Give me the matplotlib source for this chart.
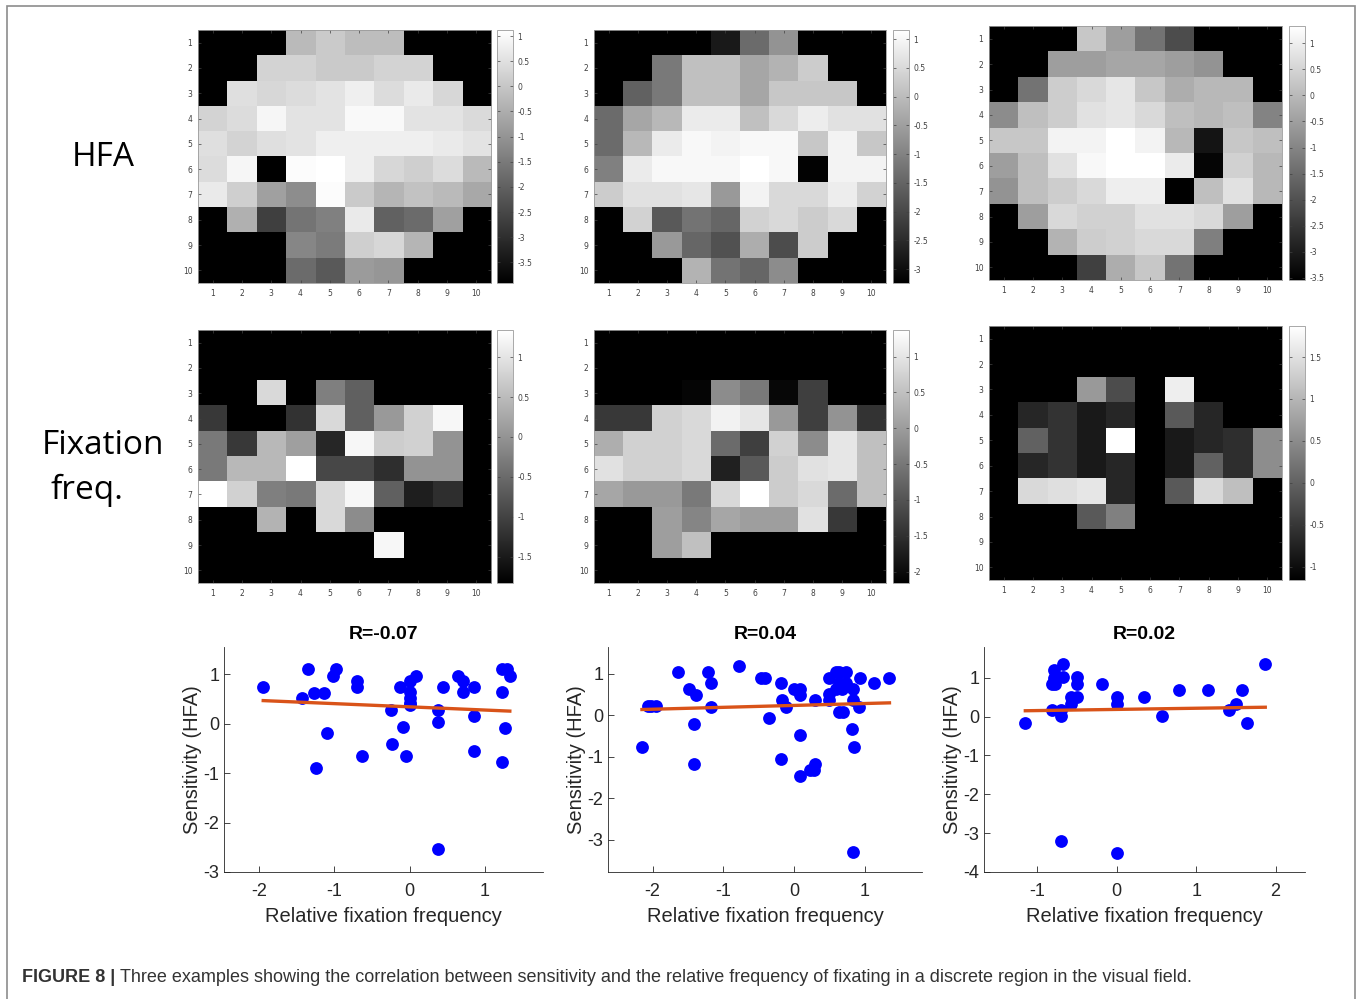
import numpy as np
import matplotlib
matplotlib.use('Agg')
import matplotlib.pyplot as plt
from matplotlib.patches import Rectangle
from matplotlib.ticker import FormatStrFormatter

plt.rcParams['axes.unicode_minus'] = False
nan = np.nan

# HFA sensitivity maps (10 x 10 grid, NaN = outside the field)
hfa_1 = [
    [nan, nan, nan, -0.24, 0.07, -0.19, -0.19, nan, nan, nan],
    [nan, nan, 0.27, 0.27, 0.07, 0.07, 0.27, 0.27, nan, nan],
    [nan, 0.48, 0.32, 0.43, 0.58, 0.79, 0.43, 0.69, 0.32, nan],
    [0.27, 0.43, 0.94, 0.58, 0.58, 0.99, 0.99, 0.58, 0.58, 0.38],
    [0.48, 0.27, 0.48, 0.58, 0.79, 0.79, 0.79, 0.79, 0.69, 0.58],
    [0.43, 0.94, -3.9, 1.05, 1.2, 0.79, 0.32, 0.17, 0.43, -0.24],
    [0.69, 0.17, -0.76, -1.12, 1.05, 0.07, -0.35, -0.09, -0.24, -0.60],
    [nan, -0.45, -2.66, -1.63, -1.38, 0.69, -1.99, -1.79, -0.76, nan],
    [nan, nan, nan, -1.27, -1.48, 0.17, 0.32, -0.35, nan, nan],
    [nan, nan, nan, -1.79, -2.15, -0.86, -0.96, nan, nan, nan],
]
hfa_2 = [
    [nan, nan, nan, nan, -2.80, -1.39, -0.69, nan, nan, nan],
    [nan, nan, -1.13, 0.06, 0.06, -0.38, -0.16, 0.28, nan, nan],
    [nan, -1.57, -1.13, 0.06, 0.06, -0.38, 0.19, 0.19, 0.19, nan],
    [-1.39, -0.38, -0.07, 0.81, 0.81, 0.06, 0.50, 0.85, 0.63, 0.63],
    [-1.39, -0.07, 0.81, 1.03, 0.94, 1.03, 1.03, 0.19, 0.94, 0.19],
    [-1.04, 0.81, 1.03, 1.03, 1.03, 1.16, 1.03, -3.2, 0.94, 0.94],
    [0.28, 0.63, 0.63, 0.72, -0.60, 0.94, 0.50, 0.50, 0.85, 0.37],
    [nan, 0.37, -1.70, -1.26, -1.48, 0.37, 0.50, 0.28, 0.50, nan],
    [nan, nan, -0.60, -1.48, -1.83, -0.25, -1.92, 0.28, nan, nan],
    [nan, nan, nan, -0.16, -1.26, -1.48, -0.82, nan, nan, nan],
]
hfa_3 = [
    [nan, nan, nan, 0.26, -0.52, -1.35, -2.08, nan, nan, nan],
    [nan, nan, -0.52, -0.52, -0.37, -0.37, -0.52, -0.72, nan, nan],
    [nan, -1.35, 0.36, 0.60, 0.84, 0.26, -0.23, -0.03, -0.03, nan],
    [-0.86, 0.11, 0.36, 0.75, 0.84, 0.60, 0.11, -0.03, 0.11, -1.01],
    [0.26, 0.26, 1.09, 1.09, 1.33, 1.09, -0.03, -3.15, 0.26, 0.11],
    [-0.52, 0.11, 0.75, 1.18, 1.33, 1.33, 0.94, -3.44, 0.45, -0.03],
    [-0.72, 0.11, 0.36, 0.60, 0.99, 0.99, -3.54, 0.11, 0.75, -0.03],
    [nan, -0.52, 0.60, 0.45, 0.45, 0.75, 0.75, 0.60, -0.52, nan],
    [nan, nan, -0.13, 0.36, 0.45, 0.60, 0.60, -1.11, nan, nan],
    [nan, nan, nan, -2.32, -0.23, 0.26, -1.35, nan, nan, nan],
]

# relative fixation frequency maps
fix_1 = [
    [nan] * 10,
    [nan] * 10,
    [nan, nan, 0.86, nan, -0.25, -0.63, nan, nan, nan, nan],
    [-1.13, nan, nan, -1.20, 0.86, -0.63, 0.07, 0.77, 1.24, nan],
    [-0.31, -1.13, 0.45, 0.14, -1.35, 1.24, 0.71, 0.77, 0.01, nan],
    [-0.31, 0.45, 0.45, 1.34, -0.94, -0.94, -1.26, 0.01, 0.01, nan],
    [1.34, 0.77, -0.25, -0.31, 0.86, 1.24, -0.63, -1.45, -1.26, nan],
    [nan, nan, 0.39, nan, 0.86, -0.09, nan, nan, nan, nan],
    [nan, nan, nan, nan, nan, nan, 1.24, nan, nan, nan],
    [nan] * 10,
]
fix_2 = [
    [nan] * 10,
    [nan] * 10,
    [nan, nan, nan, -2.09, -0.22, -0.47, -2.05, -1.28, nan, nan],
    [-1.38, -1.38, 0.73, 0.84, 1.19, 1.02, -0.04, -1.28, -0.11, -1.45],
    [0.24, 0.73, 0.73, 0.84, -0.68, -1.28, 0.73, -0.22, 1.02, 0.49],
    [0.95, 0.73, 0.73, 0.84, -1.70, -0.92, 0.66, 0.95, 1.02, 0.49],
    [0.13, -0.04, -0.04, -0.47, 0.84, 1.37, 0.66, 0.84, -0.68, 0.49],
    [nan, nan, 0.03, -0.32, 0.13, 0.03, 0.03, 0.95, -1.38, nan],
    [nan, nan, 0.03, 0.49, nan, nan, nan, nan, nan, nan],
    [nan] * 10,
]
fix_3 = [
    [nan] * 10,
    [nan] * 10,
    [nan, nan, nan, 0.66, -0.25, nan, 1.66, nan, nan, nan],
    [nan, -0.71, -0.55, -0.86, -0.71, nan, -0.10, -0.71, nan, nan],
    [nan, -0.01, -0.55, -0.86, 1.87, nan, -0.86, -0.71, -0.61, 0.51],
    [nan, -0.71, -0.55, -0.86, -0.71, nan, -0.86, -0.01, -0.61, 0.51],
    [nan, 1.42, 1.48, 1.57, -0.71, nan, -0.10, 1.42, 1.11, nan],
    [nan, nan, nan, -0.10, 0.36, nan, nan, nan, nan, nan],
    [nan] * 10,
    [nan] * 10,
]

hfa_ranges = [(-3.91, 1.12), (-3.24, 1.16), (-3.54, 1.33)]
fix_ranges = [(-1.83, 1.34), (-2.16, 1.37), (-1.16, 1.87)]
hfa_cticks = [np.arange(-3.5, 1.01, 0.5), np.arange(-3, 1.01, 0.5), np.arange(-3.5, 1.01, 0.5)]
fix_cticks = [np.arange(-1.5, 1.01, 0.5), np.arange(-2, 1.01, 0.5), np.arange(-1, 1.51, 0.5)]

# scatter: relative fixation frequency vs sensitivity
freq_1 = [-1.94, -1.35, -1.42, -1.27, -1.14, -1.01, -0.98, -1.10, -1.24, -0.69, -0.69, -0.63,
          -0.25, -0.23, -0.12, -0.08, -0.05, 0.0, 0.0, 0.0, 0.0, 0.0, 0.08, 0.38, 0.38, 0.44,
          0.38, 0.64, 0.71, 0.71, 0.85, 0.85, 0.85, 1.22, 1.29, 1.22, 1.33, 1.26, 1.22]
sens_1 = [0.74, 1.10, 0.52, 0.62, 0.62, 0.96, 1.10, -0.19, -0.89, 0.87, 0.74, -0.66,
          0.27, -0.42, 0.74, -0.07, -0.65, 0.86, 0.64, 0.52, 0.42, 0.37, 0.96, 0.28, 0.03, 0.74,
          -2.53, 0.96, 0.86, 0.63, 0.74, 0.15, -0.55, 1.10, 1.10, 0.63, 0.96, -0.08, -0.77]
freq_2 = [-2.15, -2.02, -1.95, -2.06, -1.64, -1.49, -1.39, -1.42, -1.42, -1.21, -1.17, -1.17,
          -0.78, -0.47, -0.41, -0.35, -0.19, -0.17, -0.11, -0.19, 0.0, 0.08, 0.08, 0.08, 0.08,
          0.22, 0.28, 0.29, 0.29, 0.49, 0.49, 0.49, 0.59, 0.64, 0.73, 0.64, 0.73, 0.59, 0.68,
          0.64, 0.69, 0.84, 0.84, 0.82, 0.85, 0.84, 0.93, 0.92, 1.13, 1.35]
sens_2 = [-0.77, 0.22, 0.22, 0.22, 1.04, 0.64, 0.48, -0.22, -1.18, 1.04, 0.77, 0.20,
          1.20, 0.91, 0.91, -0.06, 0.77, 0.36, 0.20, -1.05, 0.64, 0.64, 0.48, -0.48, -1.47,
          -1.32, -1.32, -1.18, 0.36, 0.91, 0.52, 0.36, 1.04, 1.04, 1.04, 0.77, 0.77, 0.64, 0.64,
          0.08, 0.08, 0.64, 0.36, -0.34, -0.77, -3.29, 0.91, 0.20, 0.77, 0.91]
freq_3 = [-1.15, -0.82, -0.79, -0.79, -0.82, -0.78, -0.70, -0.70, -0.67, -0.67, -0.70, -0.58,
          -0.57, -0.50, -0.50, -0.50, -0.18, 0.0, 0.0, 0.0, 0.34, 0.57, 0.79, 1.15, 1.41, 1.50,
          1.58, 1.64, 1.87]
sens_3 = [-0.16, 0.18, 1.19, 0.99, 0.85, 0.85, 0.18, 0.01, 1.36, 1.01, -3.19, 0.33,
          0.50, 0.50, 1.01, 0.85, 0.85, 0.50, 0.33, -3.52, 0.50, 0.01, 0.68, 0.68, 0.16, 0.33,
          0.68, -0.16, 1.35]
# fitted regression line as shown (slope, intercept)
fit_slope = [-0.065, 0.046, 0.030]
fit_intercept = [0.34, 0.24, 0.184]
r_labels = ['R=-0.07', 'R=0.04', 'R=0.02']
scatter_xlims = [(-2.46, 1.77), (-2.63, 1.81), (-1.67, 2.37)]
scatter_ylims = [(-3, 1.55), (-3.78, 1.65), (-4, 1.79)]
scatter_xticks = [[-2, -1, 0, 1], [-2, -1, 0, 1], [-1, 0, 1, 2]]
scatter_yticks = [[-3, -2, -1, 0, 1], [-3, -2, -1, 0, 1], [-4, -3, -2, -1, 0, 1]]

caption_bold = 'FIGURE 8 |'
caption_text = ('Three examples showing the correlation between sensitivity and the relative '
                'frequency of fixating in a discrete region in the visual field.')

W, H = 1358, 999


def rect(l, t, r, b):
    return [l / W, 1 - b / H, (r - l) / W, (b - t) / H]


fig = plt.figure(figsize=(W / 100, H / 100), dpi=100)
fig.patches.append(Rectangle((7 / W, -0.02), 1348 / W, 1.02 - 6 / H, transform=fig.transFigure,
                             fill=False, edgecolor='#8c8c8c', linewidth=1.2))

cmap = plt.get_cmap('gray').copy()
cmap.set_bad('black')

col_x = [(198, 491, 497, 513), (594, 886, 893, 909), (989, 1282, 1289, 1305)]
row_y = [[(30, 283), (30, 283), (26, 280)], [(330, 583), (330, 583), (326, 580)]]
maps = [[hfa_1, hfa_2, hfa_3], [fix_1, fix_2, fix_3]]
ranges = [hfa_ranges, fix_ranges]
cticks = [hfa_cticks, fix_cticks]

for r in range(2):
    for c in range(3):
        l, rr, cl, cr = col_x[c]
        t, b = row_y[r][c]
        ax = fig.add_axes(rect(l, t, rr, b))
        vmin, vmax = ranges[r][c]
        im = ax.imshow(np.array(maps[r][c], dtype=float), cmap=cmap, vmin=vmin, vmax=vmax,
                       extent=(0.5, 10.5, 10.5, 0.5), aspect='auto', interpolation='nearest')
        ax.set_xticks(range(1, 11))
        ax.set_yticks(range(1, 11))
        ax.tick_params(direction='in', length=2, width=0.5, labelsize=5.5, colors='#404040',
                       top=True, right=True, pad=4)
        for s in ax.spines.values():
            s.set_color('#9a9a9a')
            s.set_linewidth(0.6)
        cax = fig.add_axes(rect(cl, t, cr, b))
        cb = fig.colorbar(im, cax=cax)
        cb.set_ticks(cticks[r][c])
        cb.ax.yaxis.set_major_formatter(FormatStrFormatter('%g'))
        cb.ax.tick_params(direction='in', length=2, width=0.5, labelsize=5.5, colors='#404040',
                          left=True, pad=3)
        cb.outline.set_edgecolor('#9a9a9a')
        cb.outline.set_linewidth(0.6)

fig.text(103 / W, 1 - 157 / H, 'HFA', fontsize=24, family='Open Sans', ha='center', va='center')
fig.text(103 / W, 1 - 445 / H, 'Fixation', fontsize=24, family='Open Sans', ha='center', va='center')
fig.text(87 / W, 1 - 490 / H, 'freq.', fontsize=24, family='Open Sans', ha='center', va='center')

scatter_x = [(224, 543), (608, 922), (984, 1305)]
freqs = [freq_1, freq_2, freq_3]
sens = [sens_1, sens_2, sens_3]
for i in range(3):
    l, rr = scatter_x[i]
    ax = fig.add_axes(rect(l, 647, rr, 872))
    x = np.array(freqs[i])
    y = np.array(sens[i])
    ax.scatter(x, y, s=85, color='#0000ff', zorder=3, linewidths=0)
    xs = np.array([x.min(), x.max()])
    ax.plot(xs, fit_slope[i] * xs + fit_intercept[i], color='#d95319', linewidth=2.4, zorder=4)
    ax.set_xlim(*scatter_xlims[i])
    ax.set_ylim(*scatter_ylims[i])
    ax.set_xticks(scatter_xticks[i])
    ax.set_yticks(scatter_yticks[i])
    for s in ['top', 'right']:
        ax.spines[s].set_visible(False)
    for s in ['left', 'bottom']:
        ax.spines[s].set_color('#262626')
        ax.spines[s].set_linewidth(0.6)
    ax.tick_params(direction='in', length=4, width=0.6, labelsize=13, colors='#262626')
    ax.tick_params(axis='x', pad=8)
    for lab in ax.get_xticklabels() + ax.get_yticklabels():
        lab.set_family('Liberation Sans')
    ax.set_xlabel('Relative fixation frequency', fontsize=14.5, family='Liberation Sans',
                  color='#262626', labelpad=5)
    ax.set_ylabel('Sensitivity (HFA)', fontsize=14.5, family='Liberation Sans',
                  color='#262626', labelpad=1)
    ax.set_title(r_labels[i], fontsize=14, fontweight='bold', family='Liberation Sans', pad=6)

t1 = fig.text(22 / W, 1 - 978 / H, caption_bold, fontsize=13, fontweight='bold',
              family='Liberation Sans', color='#333333', va='center')
renderer = fig.canvas.get_renderer()
bold_end = t1.get_window_extent(renderer=renderer).x1
fig.text((bold_end + 5) / W, 1 - 978 / H, caption_text, fontsize=13,
         family='Liberation Sans', color='#333333', va='center')

fig.savefig('out.png', dpi=100)
